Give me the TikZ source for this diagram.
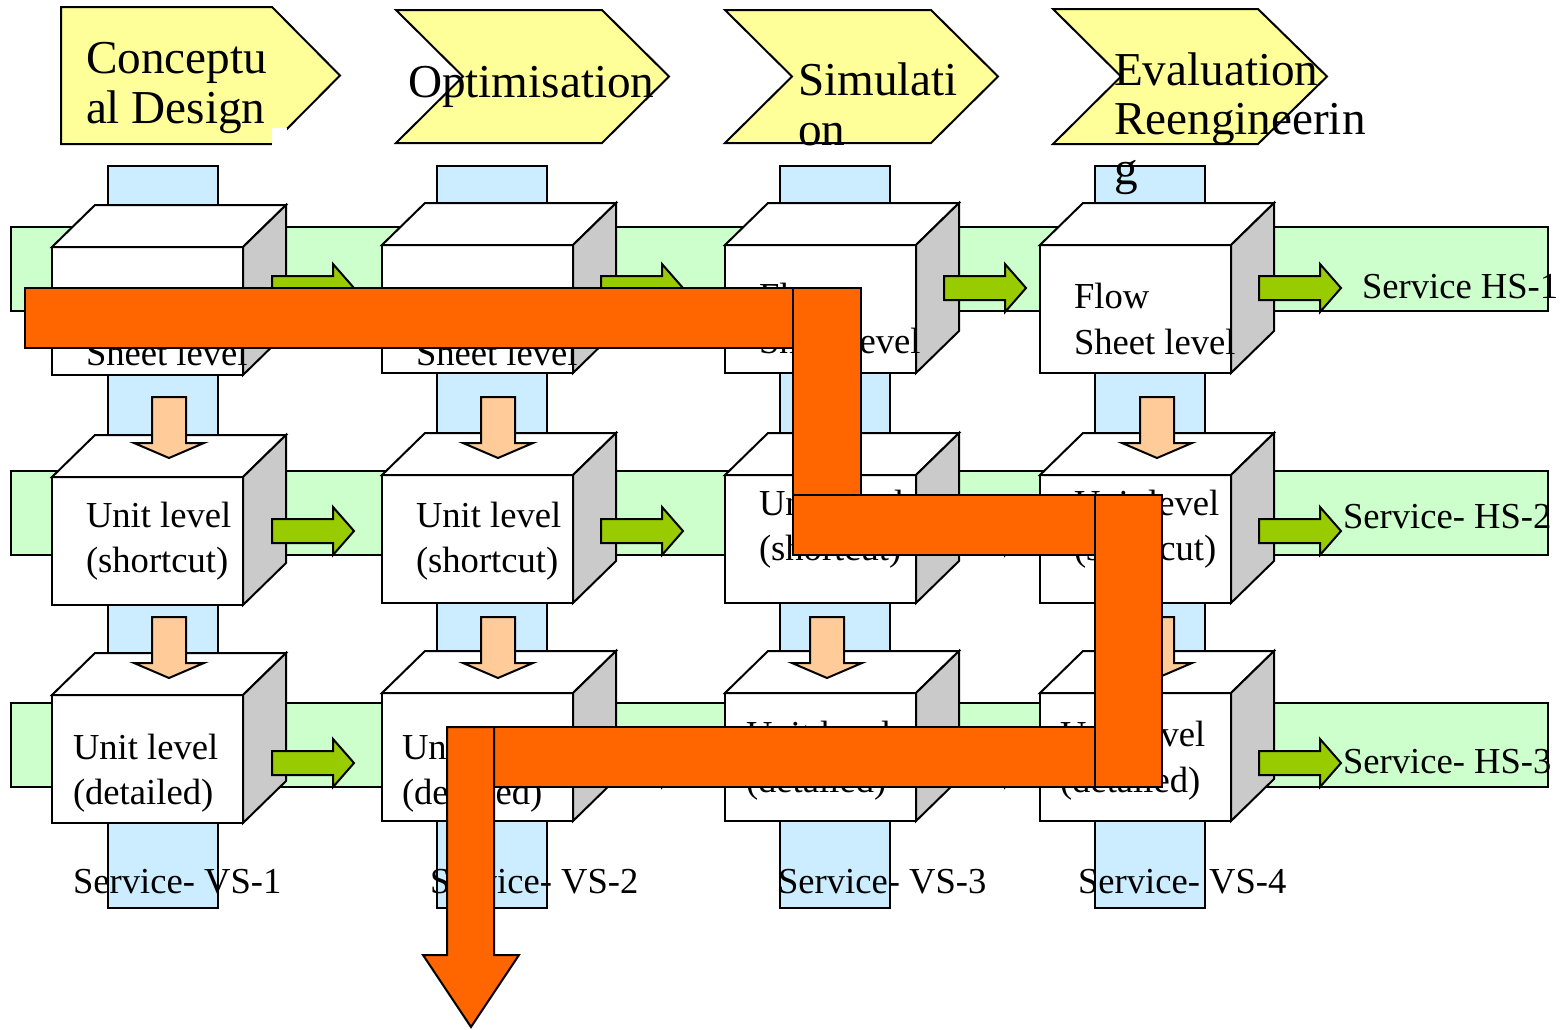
\documentclass[tikz,border=0pt]{standalone}
\usepackage{fontspec}
\setmainfont{Liberation Serif}
\definecolor{hdr}{HTML}{FFFF99}
\definecolor{vbar}{HTML}{CCECFF}
\definecolor{hbar}{HTML}{CCFFCC}
\definecolor{garr}{HTML}{99CC00}
\definecolor{parr}{HTML}{FFCC99}
\definecolor{orng}{HTML}{FF6600}
\definecolor{sidegray}{HTML}{CACACA}
\newcommand\CubeAt[2]{%
  \draw[outl, fill=white] (#1,#2) rectangle ++(191,128);
  \draw[outl, fill=white] (#1,#2) -- ++(43,-42) -- ++(191,0) -- ++(-43,42) -- cycle;
  \draw[outl, fill=sidegray] (#1+191,#2) -- ++(43,-42) -- ++(0,128) -- ++(-43,42) -- cycle;}
\newcommand\GArrow[2]{%
  \draw[outl, fill=garr] (#1,#2-12) -- (#1+61,#2-12) -- (#1+61,#2-24) -- (#1+82,#2)
    -- (#1+61,#2+24) -- (#1+61,#2+12) -- (#1,#2+12) -- cycle;}
\newcommand\PArrow[2]{%
  \draw[outl, fill=parr] (#1-17,#2) -- (#1+17,#2) -- (#1+17,#2+46) -- (#1+35,#2+46)
    -- (#1,#2+61) -- (#1-35,#2+46) -- (#1-17,#2+46) -- cycle;}
\begin{document}
\begin{tikzpicture}[x=0.5pt,y=-0.5pt,
  outl/.style={draw=black, line width=1pt, line join=miter},
  txt/.style={inner sep=0pt, outer sep=0pt, anchor=base west, font=\fontsize{18.3}{22}\selectfont},
  htxt/.style={inner sep=0pt, outer sep=0pt, anchor=base west, font=\fontsize{23.6}{25}\selectfont}]
\useasboundingbox (0,0) rectangle (1563,1029);

% header chevrons
\draw[outl, fill=hdr] (61,7) -- (272,7) -- (340,75.5) -- (272,144) -- (61,144) -- cycle;
\fill[white] (272,128) rectangle (287,147);
\draw[outl, fill=hdr] (396,10) -- (602,10) -- (669,76.5) -- (602,143) -- (396,143) -- (463,76.5) -- cycle;
\draw[outl, fill=hdr] (725,10) -- (931,10) -- (998,76.5) -- (931,143) -- (725,143) -- (792,76.5) -- cycle;
\draw[outl, fill=hdr] (1053,9) -- (1258,9) -- (1327,76.5) -- (1258,144) -- (1053,144) -- (1121,76.5) -- cycle;

% vertical service bars
\foreach \x in {108,437,780,1095}
  \draw[outl, fill=vbar] (\x,166) rectangle (\x+110,908);
% horizontal service bars
\foreach \y in {227,471,703}
  \draw[outl, fill=hbar] (11,\y) rectangle (1548,\y+84);

% cubes
\foreach \y in {247,477,695} { \CubeAt{52}{\y} }
\foreach \x in {382,725,1040}
  \foreach \y in {245,475,693} { \CubeAt{\x}{\y} }

% green arrows
\foreach \y in {288,531,763}
  \foreach \x in {272,601,944,1259} { \GArrow{\x}{\y} }

% peach arrows
\foreach \x in {169,498,1157}
  \foreach \y in {397,617} { \PArrow{\x}{\y} }
\PArrow{827}{617}

% cube texts
\node[txt] (f1a) at (86,319) {Flow};
\node[txt] (f1b) at (86,365) {Sheet level};
\node[txt] (f2a) at (416,319) {Flow};
\node[txt] (f2b) at (416,365) {Sheet level};
\node[txt] (f3a) at (759,308) {Flow};
\node[txt] (f3b) at (759,353) {Sheet level};
\node[txt] (f4a) at (1074,308) {Flow};
\node[txt] (f4b) at (1074,354) {Sheet level};

\node[txt] (s1a) at (86,527) {Unit level};
\node[txt] (s1b) at (86,572) {(shortcut)};
\node[txt] (s2a) at (416,527) {Unit level};
\node[txt] (s2b) at (416,572) {(shortcut)};
\node[txt] (s3a) at (759,515) {Unit level};
\node[txt] (s3b) at (759,560) {(shortcut)};
\node[txt] (s4a) at (1074,515) {Unit level};
\node[txt] (s4b) at (1074,560) {(shortcut)};

\node[txt] (d1a) at (73,759) {Unit level};
\node[txt] (d1b) at (73,804) {(detailed)};
\node[txt] (d2a) at (402,759) {Unit level};
\node[txt] (d2b) at (402,804) {(detailed)};
\node[txt] (d3a) at (746,746) {Unit level};
\node[txt] (d3b) at (746,792) {(detailed)};
\node[txt] (d4a) at (1060,746) {Unit level};
\node[txt] (d4b) at (1060,792) {(detailed)};

% service labels
\node[txt] (vs1) at (73,893) {Service- VS-1};
\node[txt] (vs2) at (430,893) {Service- VS-2};
\node[txt] (vs3) at (778,893) {Service- VS-3};
\node[txt] (vs4) at (1078,893) {Service- VS-4};
\node[txt] (hs1) at (1362,298) {Service HS-1};
\node[txt] (hs2) at (1343,528) {Service- HS-2};
\node[txt] (hs3) at (1343,773) {Service- HS-3};

% header texts
\node[htxt] (h1a) at (86,73) {Conceptu};
\node[htxt] (h1b) at (86,123) {al Design};
\node[htxt] (h2) at (408,97) {Optimisation};
\node[htxt] (h3a) at (798,95) {Simulati};
\node[htxt] (h3b) at (798,145) {on};
\node[htxt] (h4a) at (1114,85) {Evaluation};
\node[htxt] (h4b) at (1114,134) {Reengineerin};
\node[htxt] (h4c) at (1114,184) {g};

% orange path
\draw[outl, fill=orng] (25,288) rectangle (861,348);
\draw[outl, fill=orng] (793,288) rectangle (861,555);
\draw[outl, fill=orng] (793,495) rectangle (1162,555);
\draw[outl, fill=orng] (447,727) rectangle (1162,787);
\draw[outl, fill=orng] (1095,495) rectangle (1162,787);
\draw[outl, fill=orng] (447,727) -- (494,727) -- (494,955) -- (519,955) -- (471,1027)
  -- (423,955) -- (447,955) -- cycle;
\end{tikzpicture}
\end{document}
